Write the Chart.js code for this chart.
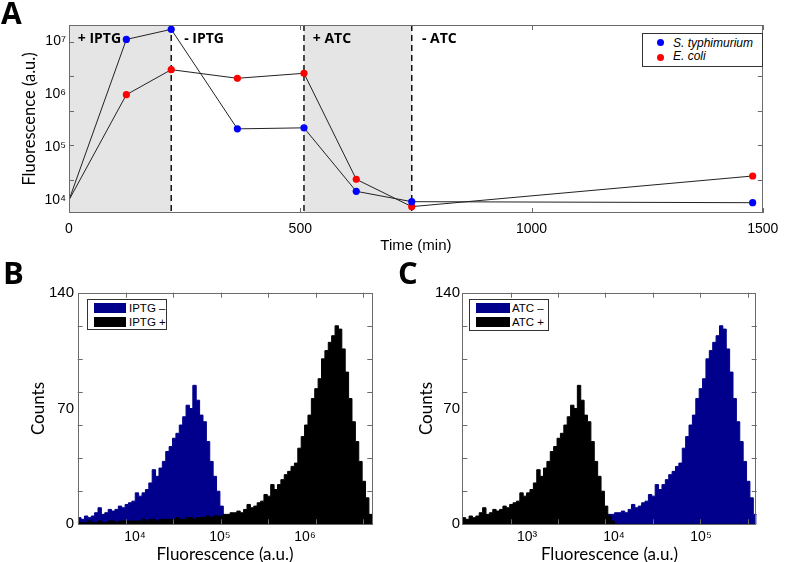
<!DOCTYPE html>
<html><head><meta charset="utf-8">
<script src="https://cdn.jsdelivr.net/npm/chart.js@4.4.1/dist/chart.umd.min.js"></script>
<style>
html,body{margin:0;padding:0;background:#fff;width:786px;height:562px;overflow:hidden;}
body{position:relative;}
canvas{position:absolute;}
.plabel{position:absolute;font-family:"Open Sans",sans-serif;font-weight:bold;color:#000;white-space:nowrap;}
.abs{position:absolute;white-space:nowrap;}
.legbox{position:absolute;background:#fff;border:1px solid #333;box-sizing:border-box;}
.ltxt{position:absolute;font-family:"Liberation Sans",Arial,sans-serif;color:#000;white-space:nowrap;}
</style></head><body>
<canvas id="ca" width="786" height="262" style="left:0;top:0"></canvas>
<canvas id="cb" width="393" height="290" style="left:0;top:280px"></canvas>
<canvas id="cc" width="393" height="290" style="left:393px;top:280px"></canvas>

<div class="plabel" style="left:1px;top:-2px;font-size:30px;line-height:30px">A</div>
<div class="plabel" style="left:3px;top:257px;font-size:31px;line-height:31px">B</div>
<div class="plabel" style="left:398px;top:257px;font-size:31px;line-height:31px">C</div>

<!-- legend A -->
<div class="legbox" style="left:641.5px;top:33px;width:121px;height:34px"></div>
<div class="abs" style="left:656.5px;top:38.5px;width:7px;height:7px;border-radius:50%;background:#0000ff"></div>
<div class="abs" style="left:656.5px;top:53.5px;width:7px;height:7px;border-radius:50%;background:#ff0000"></div>
<div class="ltxt" id="legA1" style="left:673px;top:36.5px;font-size:12px;line-height:12px;font-style:italic"></div>
<div class="ltxt" id="legA2" style="left:673px;top:49.8px;font-size:12px;line-height:12px;font-style:italic"></div>

<!-- legend B -->
<div class="legbox" style="left:87.3px;top:299.3px;width:79.4px;height:30.5px"></div>
<div class="abs" style="left:94px;top:302.7px;width:32px;height:10.6px;background:#00008c"></div>
<div class="abs" style="left:94px;top:316.7px;width:32px;height:10.6px;background:#000"></div>
<div class="ltxt" id="legB1" style="left:129px;top:303.3px;font-size:11.5px;line-height:11.5px"></div>
<div class="ltxt" id="legB2" style="left:129px;top:317px;font-size:11.5px;line-height:11.5px"></div>

<!-- legend C -->
<div class="legbox" style="left:469.3px;top:299.3px;width:80px;height:31.4px"></div>
<div class="abs" style="left:476px;top:302.7px;width:34px;height:10.6px;background:#00008c"></div>
<div class="abs" style="left:476px;top:316.7px;width:34px;height:10.6px;background:#000"></div>
<div class="ltxt" id="legC1" style="left:512px;top:303.3px;font-size:11.5px;line-height:11.5px"></div>
<div class="ltxt" id="legC2" style="left:512px;top:317px;font-size:11.5px;line-height:11.5px"></div>

<script>
// ---------------- Panel A data ----------------
const A_SERIES_NAMES = ['S. typhimurium', 'E. coli'];
const A_TIME = [0, 124, 221, 364, 508, 621, 741, 1478];          // min
const A_STYPH = [1.0e4, 1.07e7, 1.66e7, 2.2e5, 2.3e5, 1.46e4, 9.3e3, 8.9e3];
const A_ECOLI = [1.0e4, 9.7e5, 2.88e6, 1.98e6, 2.46e6, 2.46e4, 7.5e3, 2.84e4];
const A_X_TICKS = [0, 500, 1000, 1500];
const A_X_TICK_LABELS = ['0', '500', '1000', '1500'];
const A_Y_TICKS = [1e4, 1e5, 1e6, 1e7];
const A_Y_TICK_LABELS = ['10\u2074', '10\u2075', '10\u2076', '10\u2077'];
const A_Y_MARKS = [2.38e4, 1.08e5, 4.84e5, 2.19e6, 9.7e6];
const A_SHADED = [[0, 221], [508, 741]];
const A_DASHED = [221, 508, 741];
const A_NOTES = ['+ IPTG', '- IPTG', '+ ATC', '- ATC'];
const A_NOTE_T = [19, 249, 527, 763];
const A_NOTE_Y = 1.07e7;

// ---------------- Panel B data (log10 fluorescence, counts) ----------------
const B_RANGE = [3.326, 6.792];
const B_SERIES_NAMES = ['IPTG \u2013', 'IPTG +'];
const B_IPTG_MINUS = [4,3,5,4,5,7,10,6,7,9, 8,9,11,10,12,13,14,19,17,19,
  21,25,33,29,34,38,44,47,52,55, 60,65,72,70,84,75,66,62,50,38, 29,20,11,5,2,
  0,0,0,0,0,0,0,0,0,0, 0,0,0,0,0,0,0,0,0,0, 0,0,0,0,0,0,0,0,0,0, 0,0,0,0,0,0,0,0,0,0, 0,0];
const B_IPTG_PLUS = [1,1,1,2,1,1,2,1,1,2,2,1,2,2,
  2,2,2,2,2,3,2,3,3,2,3,3,3,3,3,4,3,3,4,4,3,4,
  4,4,5,4,5,5,5,6,6,7, 7,8,7,9,12,10,11,13,14,18,
  17,24,21,24,27,30,32,35,37,46, 53,60,66,76,82,88,100,105,110,114,
  120,118,106,92,76,62,50,38,26,16, 6];
const B_X_TICKS = [4, 5, 6];
const B_X_TICK_LABELS = ['10\u2074', '10\u2075', '10\u2076'];
const B_X_MARKS = [3.894, 4.451, 5.008, 5.568, 6.125, 6.685];

// ---------------- Panel C data ----------------
const C_RANGE = [2.256, 5.640];
const C_SERIES_NAMES = ['ATC \u2013', 'ATC +'];
const C_ATC_MINUS = [1,1,1,2,1,1,2,1,1,2,2,1,2,2,
  2,2,2,2,2,3,2,3,3,2,3,3,3,3,3,4,3,3,4,4,3,4,
  4,4,5,4,5,5,5,6,6,7, 7,8,7,9,12,10,11,13,14,18,
  17,24,21,24,27,30,32,35,37,46, 53,60,66,76,82,88,100,105,110,114,
  120,118,106,92,76,62,50,38,26,16, 6];
const C_ATC_PLUS = [4,3,5,4,5,7,10,6,7,9, 8,9,11,10,12,13,14,19,17,19,
  21,25,33,29,34,38,44,47,52,55, 60,65,72,70,84,75,66,62,50,38, 29,20,11,5,2,
  0,0,0,0,0,0,0,0,0,0, 0,0,0,0,0,0,0,0,0,0, 0,0,0,0,0,0,0,0,0,0, 0,0,0,0,0,0,0,0,0,0, 0,0];
const C_X_TICKS = [3, 4, 5];
const C_X_TICK_LABELS = ['10\u00b3', '10\u2074', '10\u2075'];
const C_X_MARKS = [2.811, 3.355, 3.900, 4.447, 4.992, 5.539];

const H_Y_TICKS = [0, 70, 140];
const H_Y_TICK_LABELS = ['0', '70', '140'];
const H_Y_MARKS = [20, 40, 60, 80, 100, 120];

// legends text
document.getElementById('legA1').textContent = A_SERIES_NAMES[0];
document.getElementById('legA2').textContent = A_SERIES_NAMES[1];
document.getElementById('legB1').textContent = B_SERIES_NAMES[0];
document.getElementById('legB2').textContent = B_SERIES_NAMES[1];
document.getElementById('legC1').textContent = C_SERIES_NAMES[0];
document.getElementById('legC2').textContent = C_SERIES_NAMES[1];

Chart.defaults.color = '#000';
Chart.defaults.font.family = '"Liberation Sans", Arial, "DejaVu Sans", sans-serif';

const FRAME = '#6b6b6b';
function frameTicks(xMarks, yMarks, len) {
  return {
    id: 'frameTicks',
    afterDatasetsDraw(chart) {
      const {ctx, chartArea: a, scales: {x, y}} = chart;
      ctx.save();
      ctx.strokeStyle = FRAME; ctx.lineWidth = 1;
      ctx.beginPath();
      xMarks.forEach(v => {
        const p = Math.round(x.getPixelForValue(v)) + 0.5;
        ctx.moveTo(p, a.bottom); ctx.lineTo(p, a.bottom - len);
        ctx.moveTo(p, a.top); ctx.lineTo(p, a.top + len);
      });
      yMarks.forEach(v => {
        const p = Math.round(y.getPixelForValue(v)) + 0.5;
        ctx.moveTo(a.left, p); ctx.lineTo(a.left + len, p);
        ctx.moveTo(a.right, p); ctx.lineTo(a.right - len, p);
      });
      ctx.stroke();
      ctx.strokeRect(Math.round(a.left) + 0.5, Math.round(a.top) + 0.5,
        Math.round(a.right - a.left) - 1, Math.round(a.bottom - a.top) - 1);
      ctx.restore();
    }
  };
}

const phases = {
  id: 'phases',
  beforeDatasetsDraw(chart) {
    const {ctx, chartArea: a, scales: {x}} = chart;
    ctx.save();
    ctx.fillStyle = '#e5e5e5';
    A_SHADED.forEach(([t0, t1]) => {
      const x0 = x.getPixelForValue(t0), x1 = x.getPixelForValue(t1);
      ctx.fillRect(x0, a.top, x1 - x0, a.bottom - a.top);
    });
    ctx.setLineDash([6, 4]);
    ctx.strokeStyle = '#111'; ctx.lineWidth = 1.5;
    A_DASHED.forEach(t => {
      const p = x.getPixelForValue(t);
      ctx.beginPath(); ctx.moveTo(p, a.top); ctx.lineTo(p, a.bottom); ctx.stroke();
    });
    ctx.restore();
  },
  afterDatasetsDraw(chart) {
    const {ctx, scales: {x, y}} = chart;
    ctx.save();
    ctx.fillStyle = '#000';
    ctx.font = 'bold 14px "Open Sans", sans-serif';
    ctx.textBaseline = 'middle'; ctx.textAlign = 'left';
    A_NOTES.forEach((s, i) => ctx.fillText(s, x.getPixelForValue(A_NOTE_T[i]), y.getPixelForValue(A_NOTE_Y)));
    ctx.restore();
  }
};

// ---------------- Chart A ----------------
const ptRadius = A_TIME.map((t, i) => i === 0 ? 0 : 3.6);
new Chart(document.getElementById('ca'), {
  type: 'line',
  data: {
    datasets: [
      {label: A_SERIES_NAMES[0], data: A_TIME.map((t, i) => ({x: t, y: A_STYPH[i]})),
       borderColor: '#222', borderWidth: 1, pointRadius: ptRadius, pointBackgroundColor: '#0000ff',
       pointBorderWidth: 0, tension: 0, fill: false},
      {label: A_SERIES_NAMES[1], data: A_TIME.map((t, i) => ({x: t, y: A_ECOLI[i]})),
       borderColor: '#222', borderWidth: 1, pointRadius: ptRadius, pointBackgroundColor: '#ff0000',
       pointBorderWidth: 0, tension: 0, fill: false}
    ]
  },
  options: {
    responsive: false, animation: false, devicePixelRatio: 1,
    layout: {padding: {top: 25, right: 17, left: 0, bottom: 0}},
    plugins: {legend: {display: false}, tooltip: {enabled: false}},
    scales: {
      x: {type: 'linear', min: 0, max: 1500,
        grid: {display: false, drawTicks: false}, border: {display: false},
        afterBuildTicks: s => { s.ticks = A_X_TICKS.map(v => ({value: v})); },
        ticks: {callback: (v, i) => A_X_TICK_LABELS[i], font: {size: 14}, padding: 7.6, maxRotation: 0, autoSkip: false},
        title: {display: true, text: 'Time (min)', font: {size: 15, lineHeight: 1.2}, padding: {top: 0, bottom: 7}},
        afterFit: s => { s.height = 49; }
      },
      y: {type: 'logarithmic', min: 5689, max: 2.004e7,
        grid: {display: false, drawTicks: false}, border: {display: false},
        afterBuildTicks: s => { s.ticks = A_Y_TICKS.map(v => ({value: v})); },
        ticks: {callback: (v, i) => A_Y_TICK_LABELS[i], font: {size: 14}, padding: 3, autoSkip: false},
        title: {display: true, text: 'Fluorescence (a.u.)', font: {family: 'Lato', size: 16.5, lineHeight: 1.2}, padding: {top: 20, bottom: 0}},
        afterFit: s => { s.width = 69; }
      }
    }
  },
  plugins: [phases, frameTicks(A_X_TICKS, A_Y_MARKS, 5)]
});

// ---------------- Histograms ----------------
function histData(range, counts) {
  const w = (range[1] - range[0]) / counts.length;
  const pts = counts.map((c, i) => ({x: range[0] + i * w, y: c}));
  pts.push({x: range[1], y: counts[counts.length - 1]});
  return pts;
}
function histChart(id, range, blue, black, xTicks, xLabels, xMarks, yAxisWidth, padRight, yTickPad, yTitlePad) {
  new Chart(document.getElementById(id), {
    type: 'line',
    data: {
      datasets: [
        {label: 'black', data: histData(range, black), stepped: 'before', fill: 'origin',
         backgroundColor: '#000', borderColor: '#000', borderWidth: 1, pointRadius: 0},
        {label: 'blue', data: histData(range, blue), stepped: 'before', fill: 'origin',
         backgroundColor: '#00008c', borderColor: '#00008c', borderWidth: 1, pointRadius: 0}
      ]
    },
    options: {
      responsive: false, animation: false, devicePixelRatio: 1,
      layout: {padding: {top: 12.7, right: padRight, left: 0, bottom: 0}},
      plugins: {legend: {display: false}, tooltip: {enabled: false}},
      scales: {
        x: {type: 'linear', min: range[0], max: range[1],
          grid: {display: false, drawTicks: false}, border: {display: false},
          afterBuildTicks: s => { s.ticks = xTicks.map(v => ({value: v})); },
          ticks: {callback: (v, i) => xLabels[i], font: {size: 14}, padding: 4.3, maxRotation: 0, autoSkip: false},
          title: {display: true, text: 'Fluorescence (a.u.)', font: {family: 'Lato', size: 17, lineHeight: 1}, padding: {top: 0, bottom: 6.5}},
          afterFit: s => { s.height = 45.7; }
        },
        y: {type: 'linear', min: 0, max: 140,
          grid: {display: false, drawTicks: false}, border: {display: false},
          afterBuildTicks: s => { s.ticks = H_Y_TICKS.map(v => ({value: v})); },
          ticks: {callback: (v, i) => H_Y_TICK_LABELS[i], font: {size: 15}, padding: yTickPad, autoSkip: false},
          title: {display: true, text: 'Counts', font: {family: 'Lato', size: 17, lineHeight: 1}, padding: {top: yTitlePad, bottom: 0}},
          afterFit: s => { s.width = yAxisWidth; }
        }
      }
    },
    plugins: [frameTicks(xMarks, H_Y_MARKS, 5)]
  });
}
histChart('cb', B_RANGE, B_IPTG_MINUS, B_IPTG_PLUS, B_X_TICKS, B_X_TICK_LABELS, B_X_MARKS, 77.7, 20.7, 3.7, 30.5);
histChart('cc', C_RANGE, C_ATC_MINUS, C_ATC_PLUS, C_X_TICKS, C_X_TICK_LABELS, C_X_MARKS, 69.3, 29.3, 2.3, 25.2);
</script>
</body></html>
